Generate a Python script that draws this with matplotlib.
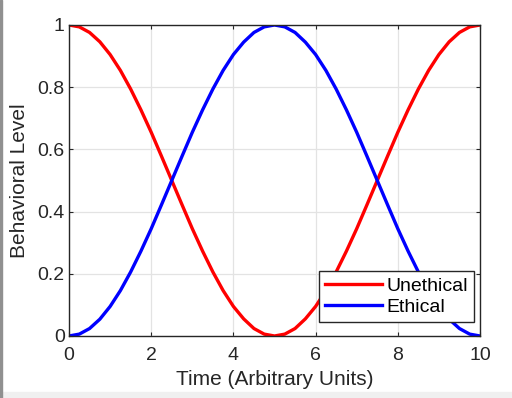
import matplotlib.pyplot as plt
from matplotlib.patches import Rectangle

plt.rcParams['font.family'] = ['Liberation Sans', 'DejaVu Sans']

# values
time = [0, 0.25, 0.5, 0.75, 1, 1.25, 1.5, 1.75, 2, 2.25, 2.5, 2.75, 3, 3.25, 3.5,
        3.75, 4, 4.25, 4.5, 4.75, 5, 5.25, 5.5, 5.75, 6, 6.25, 6.5, 6.75, 7, 7.25,
        7.5, 7.75, 8, 8.25, 8.5, 8.75, 9, 9.25, 9.5, 9.75, 10]
unethical = [1.0, 0.994, 0.976, 0.946, 0.905, 0.854, 0.794, 0.727, 0.655, 0.578,
             0.5, 0.422, 0.345, 0.273, 0.206, 0.146, 0.095, 0.055, 0.024, 0.006,
             0.0, 0.006, 0.024, 0.055, 0.095, 0.146, 0.206, 0.273, 0.345, 0.422,
             0.5, 0.578, 0.655, 0.727, 0.794, 0.854, 0.905, 0.946, 0.976, 0.994, 1.0]
ethical = [0.0, 0.006, 0.024, 0.054, 0.095, 0.146, 0.206, 0.273, 0.345, 0.422,
           0.5, 0.578, 0.655, 0.727, 0.794, 0.854, 0.905, 0.945, 0.976, 0.994,
           1.0, 0.994, 0.976, 0.945, 0.905, 0.854, 0.794, 0.727, 0.655, 0.578,
           0.5, 0.422, 0.345, 0.273, 0.206, 0.146, 0.095, 0.054, 0.024, 0.006, 0.0]
xticks = [0, 2, 4, 6, 8, 10]
yticks = [0, 0.2, 0.4, 0.6, 0.8, 1]
yticklabels = ['0', '0.2', '0.4', '0.6', '0.8', '1']

fig = plt.figure(figsize=(5.12, 3.98), dpi=100)
ax = fig.add_axes([0.1348, 0.1558, 0.8027, 0.7814])

ax.plot(time, unethical, color='#ff0000', lw=2.4, label='Unethical',
        solid_joinstyle='round')
ax.plot(time, ethical, color='#0000ff', lw=2.4, label='Ethical',
        solid_joinstyle='round')

ax.set_xlim(0, 10)
ax.set_ylim(0, 1)
ax.set_xticks(xticks)
ax.set_yticks(yticks)
ax.set_yticklabels(yticklabels)
ax.grid(True, color='#e3e3e3', lw=0.9)
ax.set_axisbelow(True)
ax.tick_params(direction='in', top=True, right=True, labelsize=14,
               colors='#262626', length=3)
ax.tick_params(axis='x', pad=8)
ax.tick_params(axis='y', pad=3)
for s in ax.spines.values():
    s.set_color('#262626')
    s.set_linewidth(1.0)

ax.set_xlabel('Time (Arbitrary Units)', fontsize=15, color='#262626', labelpad=4)
ax.set_ylabel('Behavioral Level', fontsize=15, color='#262626', labelpad=6)

leg = ax.legend(loc='lower right', bbox_to_anchor=(0.985, 0.045), borderaxespad=0,
                fontsize=14, fancybox=False, framealpha=1, edgecolor='#262626',
                handlelength=2.9, handletextpad=0.25, labelspacing=0.2,
                borderpad=0.3)
leg.get_frame().set_linewidth(1.0)

# window border bits
fig.patches.append(Rectangle((0, 0), 1, 6 / 398, transform=fig.transFigure,
                             color='#f0f0f0', zorder=0))
fig.patches.append(Rectangle((0, 0), 1.5 / 512, 1, transform=fig.transFigure,
                             color='#909090', zorder=0))

fig.savefig('out.png', dpi=100)
